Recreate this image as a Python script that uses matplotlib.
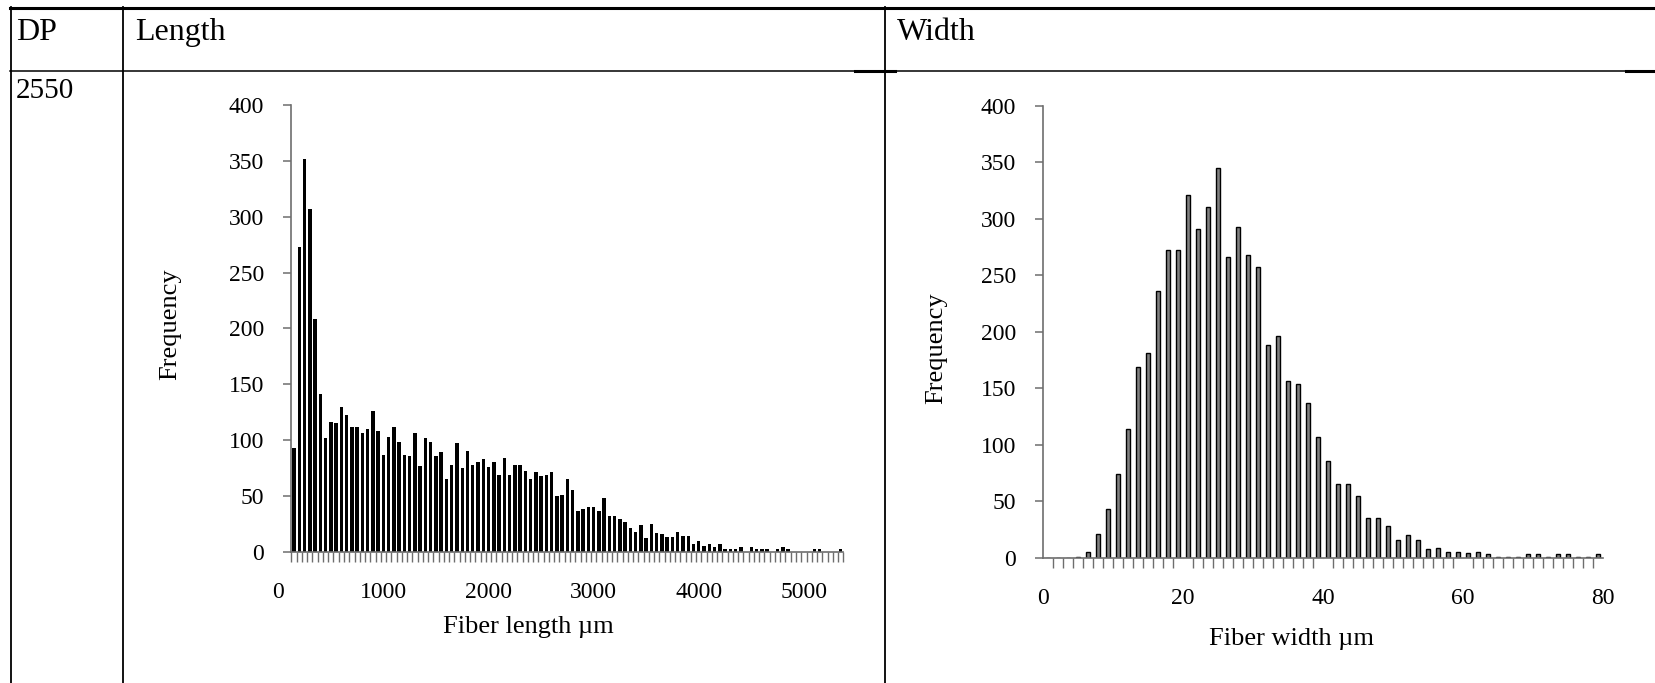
import numpy as np
import matplotlib.pyplot as plt
from matplotlib.lines import Line2D

plt.rcParams['font.family'] = ['Liberation Serif', 'DejaVu Serif']

# Fiber length histogram: 50 um bins starting at 125 um
length_start = 125
length_bin = 50
length_freq = [93, 273, 352, 307, 208, 141, 102, 116, 115, 130,
               122, 112, 112, 106, 110, 126, 108, 87, 103, 112,
               98, 87, 86, 106, 77, 102, 98, 86, 89, 65,
               78, 97, 75, 90, 78, 80, 83, 76, 80, 69,
               84, 69, 78, 78, 72, 65, 71, 68, 69, 71,
               50, 51, 65, 55, 36, 38, 40, 40, 36, 48,
               32, 32, 29, 27, 21, 18, 24, 12, 25, 17,
               16, 13, 13, 18, 14, 14, 7, 10, 5, 7,
               4, 7, 2, 2, 2, 4, 0, 4, 2, 2,
               2, 0, 2, 4, 2, 0, 0, 0, 0, 2,
               2, 0, 0, 0, 2]
length_ticks = [0, 1000, 2000, 3000, 4000, 5000]

# Fiber width histogram (56 bins, 0 - 80 um)
width_max = 80
width_freq = [0, 0, 0, 1, 5, 21, 43, 74, 114, 169,
              181, 236, 272, 272, 321, 291, 310, 345, 266, 293,
              268, 257, 188, 196, 156, 154, 137, 107, 86, 65,
              65, 55, 35, 35, 28, 16, 20, 16, 8, 9,
              5, 5, 4, 5, 3, 1, 1, 1, 3, 3,
              1, 3, 3, 1, 1, 3]
width_ticks = [0, 20, 40, 60, 80]

y_ticks = [0, 50, 100, 150, 200, 250, 300, 350, 400]

W, H = 1656, 683
fig = plt.figure(figsize=(W / 100, H / 100), dpi=100)

# table grid
def hline(y, x0, x1, lw=1.3):
    fig.add_artist(Line2D([x0 / W, x1 / W], [1 - y / H, 1 - y / H], color='black', lw=lw))

def vline(x, y0, y1, lw=1.3):
    fig.add_artist(Line2D([x / W, x / W], [1 - y0 / H, 1 - y1 / H], color='black', lw=lw))

hline(7.5, 10, W, lw=2.2)
hline(70.5, 10, W, lw=1.1)
hline(70.5, 855, 895, lw=2.2)
hline(70.5, 1626, W, lw=2.2)
vline(10.5, 7, H)
vline(123.5, 7, H)
vline(885, 7, H)

hdr = dict(fontsize=23, va='baseline', ha='left')
fig.text(16 / W, 1 - 40 / H, 'DP', **hdr)
fig.text(135 / W, 1 - 40 / H, 'Length', **hdr)
fig.text(897 / W, 1 - 40 / H, 'Width', **hdr)
fig.text(16 / W, 1 - 98 / H, '2550', fontsize=21, va='baseline', ha='left')

axis_col = '#6e6e6e'


def style(ax):
    for s in ['top', 'right']:
        ax.spines[s].set_visible(False)
    for s in ['left', 'bottom']:
        ax.spines[s].set_color(axis_col)
        ax.spines[s].set_linewidth(1.2)
    ax.set_ylim(0, 400)
    ax.set_yticks(y_ticks)
    ax.tick_params(axis='y', direction='out', length=5.5, width=1.1, color=axis_col,
                   pad=14, labelsize=17)
    ax.tick_params(axis='x', which='major', length=0, pad=22, labelsize=17)
    ax.tick_params(axis='x', which='minor', direction='out', length=7, width=1.0,
                   color=axis_col)


# Length chart (value axis from 0, vertical axis crossing at the first bin)
axL = fig.add_axes([278.3 / W, 1 - 551.7 / H, 565 / W, 446.7 / H])
nL = len(length_freq)
edgesL = length_start + np.arange(nL + 1) * length_bin
axL.bar(edgesL[:-1] + length_bin / 2, length_freq, width=length_bin * 0.66, color='black')
axL.set_xlim(0, edgesL[-1])
axL.set_xticks(length_ticks)
axL.set_xticks(edgesL, minor=True)
style(axL)
axL.spines['left'].set_position(('data', length_start))
axL.spines['bottom'].set_bounds(length_start, edgesL[-1])
axL.set_xlabel('Fiber length µm', fontsize=19)
axL.xaxis.set_label_coords(0.442, -0.145)
axL.set_ylabel('Frequency', fontsize=19)
axL.yaxis.set_label_coords(-0.171, 0.51)

# Width chart
axR = fig.add_axes([1043.3 / W, 1 - 557.7 / H, 559.7 / W, 452 / H])
nR = len(width_freq)
bwR = width_max / nR
edgesR = np.arange(nR + 1) * bwR
axR.bar(edgesR[:-1] + bwR / 2, width_freq, width=bwR * 0.4, color='#808080',
        edgecolor='black', linewidth=1.0)
axR.set_xlim(0, width_max)
axR.set_xticks(width_ticks)
axR.set_xticks(edgesR, minor=True)
style(axR)
axR.set_xlabel('Fiber width µm', fontsize=19)
axR.xaxis.set_label_coords(0.444, -0.155)
axR.set_ylabel('Frequency', fontsize=19)
axR.yaxis.set_label_coords(-0.172, 0.463)

fig.savefig('out.png', dpi=100)
